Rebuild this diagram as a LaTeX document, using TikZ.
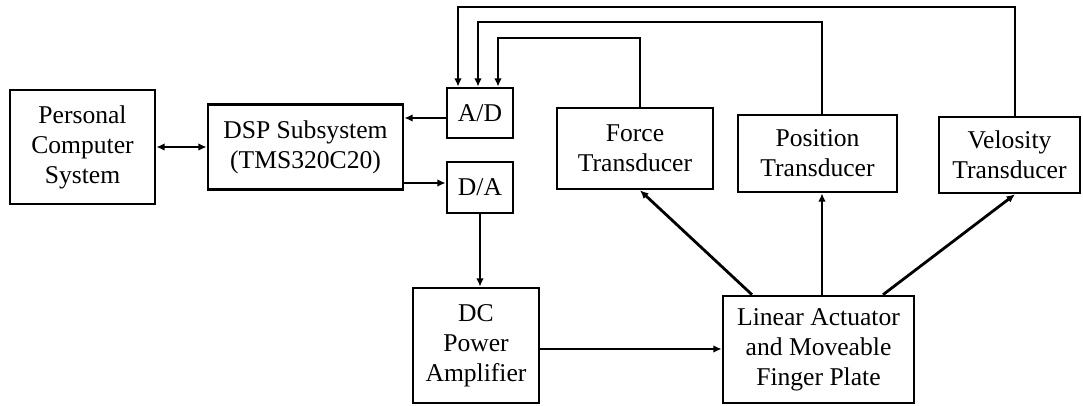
\documentclass[tikz,border=0pt]{standalone}
\usepackage{fontspec}
\setmainfont{Liberation Serif}
\usetikzlibrary{arrows.meta,calc}
\tikzset{
  box/.style={draw, rectangle, align=center, font=\fontsize{12.8}{15}\selectfont, line width=1.3pt, inner sep=2pt},
  arr/.style={-{Latex[length=4.2pt,width=3.8pt]}, line width=1.4pt},
  darr/.style={{Latex[length=4.2pt,width=3.8pt]}-{Latex[length=4.2pt,width=3.8pt]}, line width=1.4pt},
  fb/.style={-{Latex[length=4.2pt,width=3.8pt]}, line width=1.1pt},
}

\begin{document}
\begin{tikzpicture}[x=0.5pt, y=-0.5pt]
\useasboundingbox (0,0) rectangle (1083,406);
\node[box, minimum width=72.5pt, minimum height=57pt] (pc) at (82.5,147) {Personal\\Computer\\System};
\node[box, minimum width=97.5pt, minimum height=42.5pt] (dsp) at (305.5,147) {DSP Subsystem\\(TMS320C20)};
\node[box, minimum width=33pt, minimum height=25pt] (ad) at (480,113) {A/D};
\node[box, minimum width=33pt, minimum height=25.5pt] (da) at (480,187.5) {D/A};
\node[box, minimum width=63pt, minimum height=57.5pt] (dc) at (476,345.5) {DC\\Power\\Amplifier};
\node[box, minimum width=95.5pt, minimum height=53.5pt] (la) at (818.5,349.5) {Linear Actuator\\and Moveable\\Finger Plate};
\node[box, minimum width=78pt, minimum height=40.5pt] (ft) at (635,148.5) {Force\\Transducer};
\node[box, minimum width=79.5pt, minimum height=38.5pt] (pst) at (817.5,153.5) {Position\\Transducer};
\node[box, minimum width=70.5pt, minimum height=38pt] (vt) at (1009.5,155) {Velosity\\Transducer};
\coordinate (adout) at ($(ad.west)+(0,5)$);
\coordinate (dain) at ($(da.west)+(0,-4.5)$);
\coordinate (dcout) at ($(dc.east)+(0,3.5)$);
\draw[darr] (pc) -- (dsp);
\draw[arr] (adout) -- (adout -| dsp.east);
\draw[arr] (dain -| dsp.east) -- (dain);
\draw[arr] (da.south) -- (da.south |- dc.north);
\draw[arr] (dcout) -- (dcout -| la.west);
\draw[arr] ($(la.north)+(-66.5,0)$) -- ($(ft.south)+(5,0)$);
\draw[arr] ($(la.north)+(3.5,0)$) -- ($(pst.south)+(4.5,0)$);
\draw[arr] ($(la.north)+(64.5,0)$) -- ($(vt.south)+(5.5,0)$);
\draw[fb] ($(ft.north)+(5,0)$) |- ($(ad.north)+(18,-49)$) -- ($(ad.north)+(18,0)$);
\draw[fb] ($(pst.north)+(4.5,0)$) |- ($(ad.north)+(-2,-65)$) -- ($(ad.north)+(-2,0)$);
\draw[fb] ($(vt.north)+(5.5,0)$) |- ($(ad.north)+(-22,-80)$) -- ($(ad.north)+(-22,0)$);
\end{tikzpicture}
\end{document}
